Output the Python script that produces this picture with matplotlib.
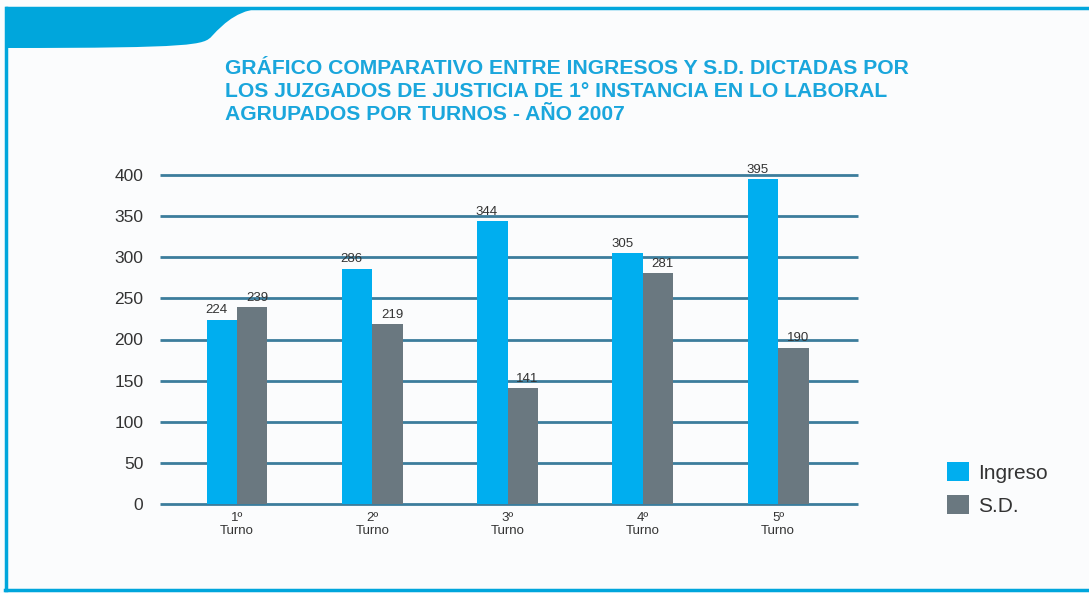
import matplotlib.pyplot as plt
from matplotlib.patches import PathPatch
from matplotlib.path import Path
import numpy as np

turnos = ["1º\nTurno", "2º\nTurno", "3º\nTurno", "4º\nTurno", "5º\nTurno"]
ingreso = [224, 286, 344, 305, 395]
sd = [239, 219, 141, 281, 190]
yticks = [0, 50, 100, 150, 200, 250, 300, 350, 400]

title = ("GRÁFICO COMPARATIVO ENTRE INGRESOS Y S.D. DICTADAS POR\n"
         "LOS JUZGADOS DE JUSTICIA DE 1° INSTANCIA EN LO LABORAL\n"
         "AGRUPADOS POR TURNOS - AÑO 2007")

CYAN = "#00a6dc"
C_ING = "#00aeef"
C_SD = "#6a7880"
GRID = "#3c7d9c"
TXT = "#333333"

plt.rcParams["font.family"] = ["Liberation Sans", "DejaVu Sans"]

W, H = 1089, 593
fig = plt.figure(figsize=(W / 100, H / 100), dpi=100)
fig.patch.set_facecolor("#fbfcfd")


def fx(px):
    return px / W


def fy(py):
    return 1 - py / H


# frame and top-left tab
ov = fig.add_axes([0, 0, 1, 1], zorder=-1)
ov.set_xlim(0, W)
ov.set_ylim(H, 0)
ov.axis("off")
ov.plot([5, W], [8, 8], color=CYAN, lw=2.5, solid_capstyle="butt")
ov.plot([6, 6], [8, 590], color=CYAN, lw=2.5)
ov.plot([5, W], [590, 590], color=CYAN, lw=2.5)
tab = Path([(5, 8), (268, 8), (240, 8), (225, 22), (212, 36),
            (204, 45), (195, 48), (5, 48), (5, 8)],
           [Path.MOVETO, Path.LINETO, Path.CURVE4, Path.CURVE4, Path.CURVE4,
            Path.CURVE4, Path.CURVE4, Path.LINETO, Path.CLOSEPOLY])
ov.add_patch(PathPatch(tab, facecolor=CYAN, edgecolor="none"))

fig.text(fx(225), fy(59), title, ha="left", va="top", color="#1aa6dc",
         fontsize=15.2, fontweight="bold", linespacing=1.27)

# chart
ax = fig.add_axes([fx(160), fy(504), fx(858) - fx(160), fy(175) - fy(504)])
ax.set_facecolor("none")
x = np.arange(len(turnos))
w = 0.225
b1 = ax.bar(x - w / 2, ingreso, w, color=C_ING, label="Ingreso", zorder=3)
b2 = ax.bar(x + w / 2, sd, w, color=C_SD, label="S.D.", zorder=3)
for bars, vals, dx in ((b1, ingreso, -0.04), (b2, sd, 0.035)):
    for r, v in zip(bars, vals):
        ax.text(r.get_x() + r.get_width() / 2 + dx, v + 4, str(v),
                ha="center", va="bottom", fontsize=9.5, color=TXT,
                clip_on=False)

ax.set_xlim(-0.569, 4.59)
ax.set_ylim(0, 400)
ax.set_yticks(yticks)
ax.set_xticks(x)
ax.set_xticklabels(turnos, fontsize=9.5, color=TXT, linespacing=1.1)
ax.tick_params(axis="y", length=0, pad=12, labelsize=12.5, labelcolor=TXT)
ax.tick_params(axis="x", length=0, pad=6)
ax.hlines(yticks, -0.569, 4.59, color=GRID, lw=2, zorder=1, clip_on=False)
for s in ax.spines.values():
    s.set_visible(False)

fig.legend(handles=[b1, b2], loc="upper left",
           bbox_to_anchor=(fx(928), fy(443)), frameon=False, fontsize=15,
           handlelength=1.05, handleheight=1.05, handletextpad=0.45,
           labelspacing=0.6, labelcolor=TXT)

fig.savefig("out.png", dpi=100, facecolor=fig.get_facecolor())
